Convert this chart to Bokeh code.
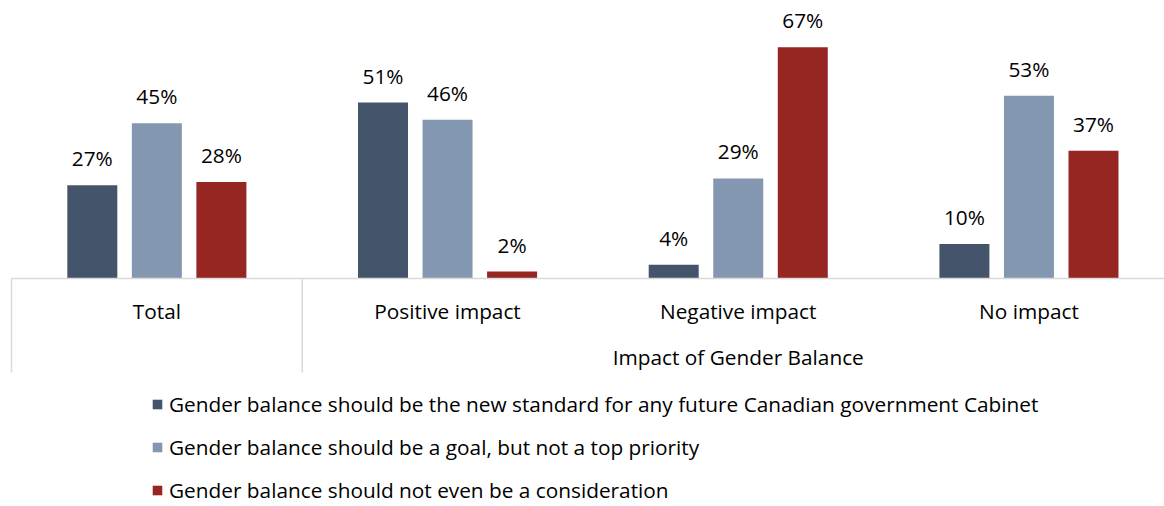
import numpy as np
from bokeh.plotting import figure
from bokeh.models import Range1d, ColumnDataSource, Legend, LegendItem
from bokeh.core.properties import value
from bokeh.embed import file_html
from bokeh.resources import INLINE

groups = ["Total", "Positive impact", "Negative impact", "No impact"]
series = [
    "Gender balance should be the new standard for any future Canadian government Cabinet",
    "Gender balance should be a goal, but not a top priority",
    "Gender balance should not even be a consideration",
]
new_standard = [27, 51, 4, 10]
goal_not_priority = [45, 46, 29, 53]
not_consideration = [28, 2, 67, 37]
super_label = "Impact of Gender Balance"

colors = ["#44546A", "#8497B0", "#952622"]
FONT = "Open Sans"
FS = "20.8px"

W, H = 1164, 506
px_per_unit = 3.45
base_px = 278
group_px = 290.7
x0 = -11 / group_px
p = figure(width=W, height=H, output_backend="svg", toolbar_location=None,
           x_range=Range1d(x0, x0 + W / group_px),
           y_range=Range1d(-(H - base_px) / px_per_unit, base_px / px_per_unit),
           min_border=0, outline_line_color=None)
p.axis.visible = False
p.grid.visible = False
p.background_fill_color = "white"
p.border_fill_color = "white"

offsets = [-0.222, 0.0, 0.222]
bar_w = 0.172
idx = np.arange(len(groups))
items = []
for vals, off, col, name in zip([new_standard, goal_not_priority, not_consideration], offsets, colors, series):
    src = ColumnDataSource(dict(x=idx + 0.5 + off, top=vals, lab=[f"{v}%" for v in vals]))
    r = p.vbar(x="x", top="top", width=bar_w, bottom=0, source=src, fill_color=col, line_color=None)
    p.text(x="x", y="top", text="lab", source=src, text_align="center", text_baseline="middle",
           y_offset=-27, text_font=value(FONT), text_font_size=FS, text_color="#000000")
    items.append(LegendItem(label=name, renderers=[r]))

axis_bottom = -(372 - base_px) / px_per_unit
grey = "#d9d9d9"
p.segment(x0=[0], y0=[0], x1=[x0 + W / group_px], y1=[0], line_color=grey, line_width=1.5)
p.segment(x0=[0, 1], y0=[0, 0], x1=[0, 1], y1=[axis_bottom, axis_bottom], line_color=grey, line_width=1.5)

p.text(x=idx + 0.5, y=[-(310 - base_px) / px_per_unit] * len(groups), text=groups,
       text_align="center", text_baseline="middle",
       text_font=value(FONT), text_font_size=FS, text_color="#000000")
p.text(x=[2.5], y=[-(356 - base_px) / px_per_unit], text=[super_label], text_align="center",
       text_baseline="middle", text_font=value(FONT), text_font_size=FS, text_color="#000000")

legend = Legend(items=items, location=(151, 2), orientation="vertical",
                glyph_width=12, glyph_height=12, label_height=18, spacing=15,
                label_standoff=6, padding=0, margin=0, border_line_color=None,
                background_fill_alpha=0, label_text_font=FONT, label_text_font_size=FS,
                label_text_color="#000000")
p.add_layout(legend)

open("out.html", "w").write(file_html(p, INLINE))
